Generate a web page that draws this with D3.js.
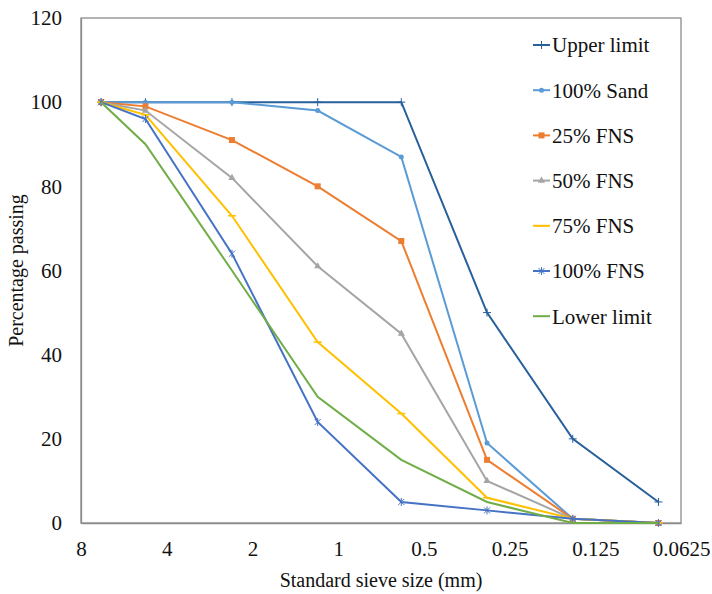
<!DOCTYPE html>
<html>
<head>
<meta charset="utf-8">
<script src="https://cdn.jsdelivr.net/npm/d3@7"></script>
<style>
  body { margin: 0; background: #fff; }
  svg text { font-family: "Liberation Serif", "DejaVu Serif", "Times New Roman", serif !important; fill: #111; }
</style>
</head>
<body>
<div class="chart"></div>
<script>
// sieve sizes (mm) and percentage passing
const sieveSizes = [6.8, 4.75, 2.36, 1.18, 0.6, 0.3, 0.15, 0.075];
const upperLimit = [100, 100, 100, 100, 100, 50, 20, 5];
const sand100 = [100, 100, 100, 98, 87, 19, 1, 0];
const fns25 = [100, 99, 91, 80, 67, 15, 1, 0];
const fns50 = [100, 98, 82, 61, 45, 10, 1, 0];
const fns75 = [100, 97, 73, 43, 26, 6, 1, 0];
const fns100 = [100, 96, 64, 24, 5, 3, 1, 0];
const lowerLimit = [100, 90, 60, 30, 15, 5, 0, 0];
const xTicks = [8, 4, 2, 1, 0.5, 0.25, 0.125, 0.0625];
const yTicks = [0, 20, 40, 60, 80, 100, 120];

const series = [
  { name: 'Upper limit', values: upperLimit, color: '#27609a', marker: 'plus' },
  { name: '100% Sand', values: sand100, color: '#5b9bd5', marker: 'circle' },
  { name: '25% FNS', values: fns25, color: '#ed7d31', marker: 'square' },
  { name: '50% FNS', values: fns50, color: '#a5a5a5', marker: 'triangle' },
  { name: '75% FNS', values: fns75, color: '#ffc000', marker: 'dash' },
  { name: '100% FNS', values: fns100, color: '#4472c4', marker: 'star' },
  { name: 'Lower limit', values: lowerLimit, color: '#70ad47', marker: null }
];

const width = 712, height = 594;
const margin = { top: 18, right: 31, bottom: 71, left: 81 };
const w = width - margin.left - margin.right;
const h = height - margin.top - margin.bottom;

const svg = d3.select('.chart')
    .append('svg')
    .attr('width', width)
    .attr('height', height);

const g = svg.append('g')
    .attr('transform', `translate(${margin.left},${margin.top})`);

// log axis, reversed (big sieves on the left)
const x = d3.scaleLog().base(2)
    .domain([8, 0.0625])
    .range([0, w]);

const y = d3.scaleLinear()
    .domain([0, 120])
    .range([h, 0]);

// frame
g.append('rect')
    .attr('width', w)
    .attr('height', h)
    .attr('fill', 'none')
    .attr('stroke', '#8c8c8c')
    .attr('stroke-width', 1.3);

// x axis
const xAxis = g.append('g')
    .attr('transform', `translate(0,${h})`)
    .call(d3.axisBottom(x).tickValues(xTicks).tickFormat(d => String(d)).tickSize(0).tickPadding(18));
xAxis.attr('font-family', null);
xAxis.select('.domain').attr('stroke', '#8c8c8c').attr('stroke-width', 1.3);
xAxis.selectAll('text').attr('font-size', 21);

// y axis
const yAxis = g.append('g')
    .call(d3.axisLeft(y).tickValues(yTicks).tickSize(0).tickPadding(19));
yAxis.attr('font-family', null);
yAxis.select('.domain').attr('stroke', '#8c8c8c').attr('stroke-width', 1.3);
yAxis.selectAll('text').attr('font-size', 21);

// axis titles
svg.append('text')
    .attr('x', margin.left + w / 2)
    .attr('y', 587)
    .attr('text-anchor', 'middle')
    .attr('font-size', 20)
    .text('Standard sieve size (mm)');

svg.append('text')
    .attr('transform', `translate(23,${margin.top + h / 2}) rotate(-90)`)
    .attr('text-anchor', 'middle')
    .attr('font-size', 20)
    .text('Percentage passing');

const line = d3.line()
    .x((d, i) => x(sieveSizes[i]))
    .y(d => y(d));

function drawMarker(sel, type, color) {
  if (type === 'circle') {
    sel.append('circle').attr('r', 2.5).attr('fill', color);
  } else if (type === 'square') {
    sel.append('rect').attr('x', -3).attr('y', -3).attr('width', 6).attr('height', 6).attr('fill', color);
  } else if (type === 'triangle') {
    sel.append('path').attr('d', d3.symbol(d3.symbolTriangle, 22)).attr('fill', color);
  } else if (type === 'plus') {
    sel.append('path').attr('d', 'M-4,0H4M0,-4V4').attr('stroke', color).attr('stroke-width', 1);
  } else if (type === 'dash') {
    sel.append('path').attr('d', 'M-4,0H4').attr('stroke', color).attr('stroke-width', 1.5);
  } else if (type === 'star') {
    sel.append('path').attr('d', 'M-3,-3L3,3M-3,3L3,-3M0,-4V4').attr('stroke', color).attr('stroke-width', 1);
  }
}

series.forEach(s => {
  const sg = g.append('g');
  sg.append('path')
      .datum(s.values)
      .attr('fill', 'none')
      .attr('stroke', s.color)
      .attr('stroke-width', 2)
      .attr('d', line);
  if (s.marker) {
    sg.selectAll('g.m')
        .data(s.values)
        .enter().append('g')
        .attr('class', 'm')
        .attr('transform', (d, i) => `translate(${x(sieveSizes[i])},${y(d)})`)
        .each(function () { drawMarker(d3.select(this), s.marker, s.color); });
  }
});

// legend
const legend = svg.append('g').attr('transform', 'translate(533,45)');
series.forEach((s, i) => {
  const lg = legend.append('g').attr('transform', `translate(0,${i * 45.2})`);
  lg.append('line')
      .attr('x1', 0).attr('x2', 17)
      .attr('stroke', s.color)
      .attr('stroke-width', 2);
  if (s.marker) {
    const mg = lg.append('g').attr('transform', 'translate(8.5,0)');
    drawMarker(mg, s.marker, s.color);
  }
  lg.append('text')
      .attr('x', 19)
      .attr('dy', '0.35em')
      .attr('font-size', 21)
      .text(s.name);
});
</script>
</body>
</html>
